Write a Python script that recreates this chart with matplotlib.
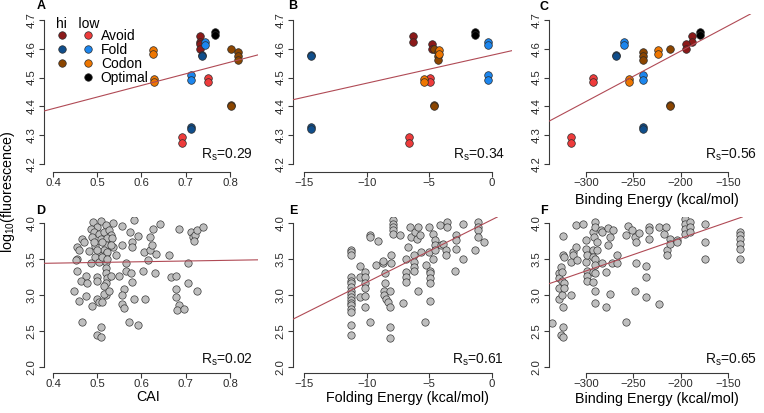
import numpy as np
import matplotlib
matplotlib.use('Agg')
import matplotlib.pyplot as plt
from matplotlib.lines import Line2D

plt.rcParams['font.family'] = ['Liberation Sans', 'DejaVu Sans']
plt.rcParams['mathtext.fontset'] = 'custom'
plt.rcParams['mathtext.rm'] = 'Liberation Sans'
plt.rcParams['mathtext.it'] = 'Liberation Sans:italic'
plt.rcParams['mathtext.bf'] = 'Liberation Sans:bold'

# ---------------- data: top row (constructs, replicate measurements) ----------------
top_group = ['avoid_hi', 'avoid_hi', 'avoid_lo', 'avoid_lo', 'fold_hi', 'fold_hi',
             'fold_lo', 'fold_lo', 'codon_hi', 'codon_hi', 'codon_hi',
             'codon_lo', 'codon_lo', 'optimal']
top_cai = [0.732, 0.733, 0.692, 0.751, 0.737, 0.713, 0.744, 0.711,
           0.802, 0.817, 0.802, 0.625, 0.629, 0.765]
top_fold = [-6.32, -4.81, -6.65, -4.94, -14.44, -14.44, -0.35, -0.30,
            -4.62, -4.30, -4.62, -4.25, -5.45, -1.35]
top_bind = [-188, -194, -315.8, -292.9, -268, -240, -259.5, -240,
            -211, -240, -211, -224, -255, -180]
top_fluor = [[4.645, 4.622], [4.615, 4.600], [4.295, 4.272], [4.497, 4.483],
             [4.580, 4.575], [4.330, 4.320], [4.622, 4.612], [4.510, 4.490],
             [4.600], [4.590, 4.575, 4.560], [4.405, 4.400],
             [4.597, 4.583], [4.495, 4.486], [4.660, 4.647]]

group_colors = {'avoid_hi': '#8B1A1A', 'avoid_lo': '#EE3B3B',
                'fold_hi': '#104E8B', 'fold_lo': '#1C86EE',
                'codon_hi': '#8B4500', 'codon_lo': '#EE7600',
                'optimal': '#000000'}

# ---------------- data: bottom row ----------------
cai_x = [0.491, 0.509, 0.536, 0.583, 0.500, 0.519, 0.485, 0.493, 0.504, 0.515, 0.527, 0.530,
         0.489, 0.508, 0.523, 0.534, 0.557, 0.574, 0.591, 0.579, 0.557, 0.536, 0.519, 0.496,
         0.466, 0.470, 0.455, 0.459, 0.515, 0.519, 0.504, 0.523, 0.542, 0.494, 0.455, 0.451,
         0.485, 0.504, 0.519, 0.564, 0.579, 0.606, 0.619, 0.624, 0.619, 0.627, 0.642, 0.685,
         0.711, 0.716, 0.722, 0.726, 0.739, 0.719, 0.632, 0.662, 0.615, 0.704, 0.455, 0.474,
         0.4625, 0.478, 0.500, 0.500, 0.519, 0.519, 0.523, 0.519, 0.515, 0.530, 0.549, 0.564,
         0.577, 0.579, 0.603, 0.631, 0.666, 0.677, 0.705, 0.447, 0.474, 0.459, 0.500, 0.504,
         0.511, 0.519, 0.515, 0.489, 0.527, 0.560, 0.557, 0.583, 0.608, 0.557, 0.560, 0.677,
         0.677, 0.685, 0.681, 0.696, 0.725, 0.465, 0.509, 0.499, 0.509, 0.572, 0.591,
         0.511, 0.500, 0.511, 0.523, 0.493, 0.481, 0.530]
cai_y = [4.01, 4.03, 4.00, 4.04, 3.94, 3.97, 3.92, 3.87, 3.85, 3.88, 3.90, 3.83,
         3.81, 3.78, 3.79, 3.79, 3.96, 3.88, 3.82, 3.74, 3.70, 3.67, 3.69, 3.68,
         3.78, 3.74, 3.67, 3.62, 3.62, 3.57, 3.56, 3.60, 3.56, 3.53, 3.50, 3.48,
         3.44, 3.46, 3.46, 3.44, 3.67, 3.60, 3.63, 3.70, 3.81, 3.92, 3.99, 3.92,
         3.88, 3.81, 3.84, 3.90, 3.95, 3.75, 3.57, 3.55, 3.48, 3.45, 3.34, 3.27,
         3.20, 3.17, 3.25, 3.20, 3.37, 3.30, 3.23, 3.17, 3.13, 3.27, 3.27, 3.34,
         3.31, 3.18, 3.34, 3.31, 3.25, 3.27, 3.17, 3.06, 2.98, 2.92, 2.95, 2.90,
         2.90, 3.00, 3.02, 2.85, 3.06, 3.09, 3.00, 2.94, 2.94, 2.88, 2.82, 3.09,
         2.97, 2.86, 2.79, 2.81, 3.06, 2.63, 2.56, 2.45, 2.41, 2.62, 2.58,
         3.74, 3.62, 3.53, 3.50, 3.74, 3.61, 3.69]

fold_x = ([-11.28] * 17 + [-10.56] * 3 + [-10.16] * 6 + [-9.76] * 3 + [-9.10, -9.23] +
          [-8.70] * 2 + [-8.56] * 2 + [-8.64] * 2 + [-8.43, -8.30] + [-8.16] * 3 + [-8.11] +
          [-8.03] * 2 + [-7.90] * 5 + [-7.31, -7.10, -6.84] + [-6.89] * 3 +
          [-6.70, -6.57, -6.44, -6.17, -5.90, -5.90, -5.98, -5.77] + [-6.25] * 4 +
          [-5.64, -5.37, -5.29] + [-4.97] * 5 + [-5.03] * 2 + [-4.71] * 2 + [-4.57] * 3 +
          [-4.18, -4.04, -3.91, -3.70, -3.64] + [-3.59] * 2 + [-2.90] * 2 + [-2.85, -2.98] +
          [-2.31] * 2 + [-1.38] + [-1.12] * 4 + [-0.66])
fold_y = ([3.63, 3.60, 3.56, 3.25, 3.20, 3.16, 3.11, 3.06, 3.02, 2.97, 2.93, 2.89, 2.86, 2.81,
           2.77, 2.58, 2.44] + [3.40, 3.25, 2.97] + [3.32, 3.25, 3.17, 3.10, 2.99, 2.84] +
          [3.84, 3.81, 2.63] + [3.75, 3.42] + [3.44, 3.47] + [3.30, 3.17] + [3.06, 3.00] +
          [2.95, 2.90] + [2.83, 2.56, 2.40] + [3.05] + [3.55, 3.44] +
          [4.04, 3.99, 3.94, 3.90, 3.85] + [3.83, 2.89, 3.50] + [3.32, 3.25, 3.18] +
          [3.67, 3.94, 3.81, 3.88, 3.94, 3.06, 3.78, 3.83] + [3.55, 3.46, 3.39, 3.34] +
          [3.60, 2.63, 3.41] + [3.34, 3.30, 3.23, 3.16, 2.91] + [3.94, 3.60] + [3.85, 3.50] +
          [3.76, 3.69, 3.62] + [3.97, 3.69, 3.71, 3.62, 3.55] + [4.01, 3.94] + [3.83, 3.64] +
          [3.76, 3.34] + [3.99, 3.50] + [3.62] + [4.01, 3.94, 3.90, 3.81] + [3.74])

bind_x = ([-336] + [-328.5] * 4 + [-326.8] * 2 + [-325] * 3 + [-324.3] * 5 + [-323.2] * 3 +
          [-316] * 2 + [-314] * 2 + [-311] * 2 + [-310, -303] + [-300] * 3 + [-299] * 4 +
          [-293] * 5 + [-292] + [-290] * 7 + [-288] * 2 + [-284.5] + [-283] * 2 +
          [-278.5] * 2 + [-276.4] * 2 + [-274.6] * 2 + [-272, -272.7] + [-267] * 2 +
          [-258] * 2 + [-255.6, -251] + [-248] * 2 + [-247] * 2 + [-244] + [-237] * 3 +
          [-233.5] * 3 + [-223] * 2 + [-218, -216] + [-214] * 2 + [-211.6] * 2 +
          [-203.5] * 2 + [-195.4] * 4 + [-190.5] * 3 + [-174.3] * 3 + [-137.7] * 6)
bind_y = ([2.61] + [3.30, 3.23, 3.10, 2.94] + [3.39, 2.45] + [3.32, 3.20, 3.00] +
          [3.82, 3.55, 2.83, 2.56, 2.41] + [3.53, 3.16, 3.10] + [3.00, 3.46] + [3.60, 3.55] +
          [3.67, 3.97] + [3.48, 3.98] + [3.76, 3.64, 3.46] + [3.55, 3.34, 3.27, 3.20] +
          [3.88, 3.62, 3.53, 3.32, 3.18] + [3.81] + [4.02, 3.94, 3.50, 3.41, 3.30, 3.06, 2.89] +
          [3.74, 3.62] + [3.90] + [3.88, 3.44] + [3.32, 2.84] + [3.93, 3.69] + [3.81, 3.02] +
          [3.90, 3.44] + [3.55, 3.44] + [3.84, 2.63] + [3.96, 3.90] + [3.81, 3.06] +
          [3.74, 3.44] + [3.86] + [3.40, 3.25, 2.97] + [3.94, 3.90, 3.78] + [2.88, 3.94] +
          [3.85, 3.94] + [3.63, 3.56] + [3.78, 3.71] + [3.76, 3.74] +
          [4.05, 3.99, 3.92, 3.85] + [4.01, 3.94, 3.88] + [3.99, 3.74, 3.50] +
          [3.88, 3.83, 3.78, 3.71, 3.64, 3.50])

# regression lines (slope, intercept at x = 0)
fit_slope = [0.403, 0.00975, 0.00175, 0.10, 0.087, 0.00454]
fit_icept = [4.231, 4.578, 4.942, 3.402, 4.046, 4.696]
rs_values = ['0.29', '0.34', '0.56', '0.02', '0.61', '0.65']
panel_letters = ['A', 'B', 'C', 'D', 'E', 'F']

x_ticks_cai = [0.4, 0.5, 0.6, 0.7, 0.8]
x_ticks_fold = [-15, -10, -5, 0]
x_ticks_bind = [-300, -250, -200, -150]
y_ticks_top = [4.2, 4.3, 4.4, 4.5, 4.6, 4.7]
y_ticks_bot = [2.0, 2.5, 3.0, 3.5, 4.0]

# ---------------- layout ----------------
W, H = 764, 413
fig = plt.figure(figsize=(W / 100, H / 100), dpi=100)

cols = [(44, 258), (293, 512), (549, 763)]
rows = [(14, 172), (217, 373)]
xlims = [(0.3797, 0.8633), (-15.878, 1.60), (-339.1, -113.1)]
ylims = [(4.1722, 4.7208), (1.917, 4.083)]
xticks_all = [x_ticks_cai, x_ticks_fold, x_ticks_bind]
yticks_all = [y_ticks_top, y_ticks_bot]
AX_COL = '#3a3a3a'
LINE_COL = '#B04A55'

axes = []
for r, (t, b) in enumerate(rows):
    for c, (l, rr) in enumerate(cols):
        ax = fig.add_axes([l / W, 1 - b / H, (rr - l) / W, (b - t) / H])
        ax.patch.set_visible(False)
        ax.set_xlim(*xlims[c])
        ax.set_ylim(*ylims[r])
        for s in ['top', 'right']:
            ax.spines[s].set_visible(False)
        xt, yt = xticks_all[c], yticks_all[r]
        ax.set_xticks(xt)
        ax.set_yticks(yt)
        ax.spines['bottom'].set_bounds(xt[0], xt[-1])
        ax.spines['left'].set_bounds(yt[0], yt[-1])
        for s in ['bottom', 'left']:
            ax.spines[s].set_color(AX_COL)
            ax.spines[s].set_linewidth(0.8)
        if c == 0:
            ax.set_xticklabels(['%.1f' % v for v in xt])
        else:
            ax.set_xticklabels([('\u2212%d' % -v) if v < 0 else '%d' % v for v in xt])
        ax.set_yticklabels(['%.1f' % v for v in yt])
        ax.tick_params(axis='both', length=3.5, width=0.8, color=AX_COL,
                       labelsize=8.2, labelcolor='#2a2a2a')
        ax.tick_params(axis='x', pad=1.0)
        ax.tick_params(axis='y', pad=2.0)
        for lbl in ax.get_yticklabels():
            lbl.set_rotation(90)
            lbl.set_va('center')
            lbl.set_ha('right')
        axes.append(ax)

# ---------------- top row points ----------------
top_x_sets = [top_cai, top_fold, top_bind]
for c in range(3):
    ax = axes[c]
    for i, g in enumerate(top_group):
        reps = top_fluor[i]
        ax.scatter([top_x_sets[c][i]] * len(reps), reps, s=30,
                   facecolor=group_colors[g], edgecolor='#2a2a2a', linewidth=0.5, zorder=2)

# ---------------- bottom row points ----------------
bot_sets = [(cai_x, cai_y), (fold_x, fold_y), (bind_x, bind_y)]
for c in range(3):
    ax = axes[3 + c]
    bx, by = bot_sets[c]
    ax.scatter(bx, by, s=28, facecolor='#BEBEBE', edgecolor='#3a3a3a', linewidth=0.5, zorder=2)

# ---------------- fit lines, Rs labels ----------------
rs_x = [0.977, 0.968, 0.972, 0.977, 0.961, 0.972]
rs_y = [0.082, 0.082, 0.082, 0.058, 0.058, 0.058]
for k, ax in enumerate(axes):
    ax.axline((0, fit_icept[k]), slope=fit_slope[k], color=LINE_COL, lw=0.8, zorder=3)
    ax.text(rs_x[k], rs_y[k], r'$\mathregular{R_s}$=' + rs_values[k], transform=ax.transAxes,
            ha='right', va='baseline', fontsize=10, color='#111111')

# panel letters
letter_pos = [(41, 6), (293, 6), (544, 7), (41, 211), (293, 211), (544, 211)]
for k, (px, py) in enumerate(letter_pos):
    fig.text(px / W, 1 - py / H, panel_letters[k], fontsize=9, fontweight='bold',
             ha='center', va='center')

# axis labels
fig.text(8 / W, 1 - 192 / H, r'log$_{\mathregular{10}}$(fluorescence)', rotation=90,
         ha='center', va='center', fontsize=10.3)
fig.text(148 / W, 1 - 397 / H, 'CAI', ha='center', va='center', fontsize=10.3)
fig.text(407 / W, 1 - 398 / H, 'Folding Energy (kcal/mol)', ha='center', va='center', fontsize=10.3)
fig.text(657 / W, 1 - 200 / H, 'Binding Energy (kcal/mol)', ha='center', va='center', fontsize=10.3)
fig.text(657 / W, 1 - 399 / H, 'Binding Energy (kcal/mol)', ha='center', va='center', fontsize=10.3)

# legend in panel A
def mk(color, visible=True):
    return Line2D([], [], marker='o', ls='', markersize=5.4,
                  markerfacecolor=color, markeredgecolor='#2a2a2a', markeredgewidth=0.5,
                  alpha=1.0 if visible else 0.0)

handles = [mk(group_colors['avoid_hi']), mk(group_colors['fold_hi']),
           mk(group_colors['codon_hi']), mk('#ffffff', False),
           mk(group_colors['avoid_lo']), mk(group_colors['fold_lo']),
           mk(group_colors['codon_lo']), mk(group_colors['optimal'])]
labels = ['', '', '', '', 'Avoid', 'Fold', 'Codon', 'Optimal']
leg = axes[0].legend(handles, labels, ncol=2, loc='upper left',
                     bbox_to_anchor=((55.5 - 44) / 214, 0.98), frameon=False,
                     title='hi   low', alignment='left', fontsize=10, title_fontsize=10,
                     handlelength=1.0, handletextpad=0.43, columnspacing=0.4,
                     labelspacing=0.0, borderpad=0, borderaxespad=0)
leg._legend_box.sep = -1.5

fig.savefig('out.png', dpi=100)
